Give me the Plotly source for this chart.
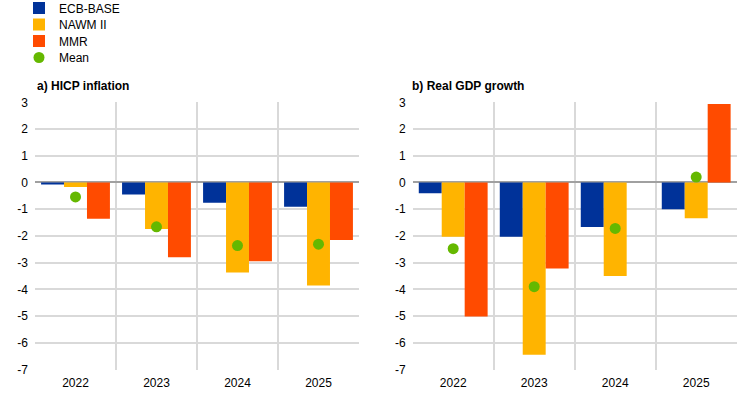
import plotly.graph_objects as go

years = ["2022", "2023", "2024", "2025"]
series_names = ["ECB-BASE", "NAWM II", "MMR"]
colors = ["#003299", "#FFB400", "#FF4B00"]
mean_color = "#65B800"

hicp_ecb = [-0.08, -0.45, -0.76, -0.91]
hicp_nawm = [-0.17, -1.74, -3.37, -3.86]
hicp_mmr = [-1.36, -2.80, -2.95, -2.15]
hicp_mean = [-0.54, -1.66, -2.36, -2.31]

gdp_ecb = [-0.40, -2.03, -1.67, -1.00]
gdp_nawm = [-2.03, -6.45, -3.50, -1.34]
gdp_mmr = [-5.02, -3.22, 0.0, 2.94]
gdp_mean = [-2.48, -3.90, -1.72, 0.20]

y_ticks = [3, 2, 1, 0, -1, -2, -3, -4, -5, -6, -7]

W, H = 744, 397
FONT = "Liberation Sans, Arial, sans-serif"

fig = go.Figure()

legend_ids = ["legend", "legend2", "legend3", "legend4"]
panels = [
    ("x", "y", [hicp_ecb, hicp_nawm, hicp_mmr], hicp_mean, True),
    ("x2", "y2", [gdp_ecb, gdp_nawm, gdp_mmr], gdp_mean, False),
]
for xa, ya, vals, mean, show in panels:
    for i, (name, v, c) in enumerate(zip(series_names, vals, colors)):
        fig.add_trace(go.Bar(
            x=years, y=v, name=name, marker=dict(color=c, line=dict(width=0)),
            xaxis=xa, yaxis=ya, showlegend=show, legend=legend_ids[i],
        ))
    fig.add_trace(go.Scatter(
        x=years, y=mean, name="Mean", mode="markers",
        marker=dict(color=mean_color, size=11, symbol="circle"),
        xaxis=xa, yaxis=ya, showlegend=show, legend=legend_ids[3],
    ))

grid = "#d9d9d9"
xcommon = dict(type="category", tickson="boundaries", showgrid=True, gridcolor=grid,
               gridwidth=1.5, ticks="", showline=False, zeroline=False,
               tickfont=dict(family=FONT, size=12, color="#000"), automargin=False,
               range=[-0.5, 3.5], ticklabelstandoff=4)
ycommon = dict(range=[-7, 3], tickvals=y_ticks, ticktext=[str(t) for t in y_ticks],
               showgrid=True, gridcolor=grid, gridwidth=1.5, zeroline=True,
               zerolinecolor="#a0a0a0", zerolinewidth=1.5, showline=False, ticks="",
               tickfont=dict(family=FONT, size=12, color="#000"), automargin=False,
               ticklabelstandoff=6)

legend_ys = [8, 24.5, 41, 57.5]
legend_layout = {}
for lid, ly in zip(legend_ids, legend_ys):
    legend_layout[lid] = dict(x=19 / W, y=(H - ly) / H, xanchor="left", yanchor="middle",
                              orientation="v", font=dict(family=FONT, size=12, color="#000"),
                              bgcolor="rgba(0,0,0,0)", itemwidth=30)

fig.update_layout(
    width=W, height=H,
    margin=dict(l=0, r=0, t=0, b=0, autoexpand=False),
    paper_bgcolor="white", plot_bgcolor="white",
    barmode="group", bargap=0.15, bargroupgap=0,
    font=dict(family=FONT, size=12, color="#000"),
    xaxis=dict(domain=[35 / W, 359 / W], anchor="y", **xcommon),
    yaxis=dict(domain=[(H - 369.5) / H, (H - 102.3) / H], anchor="x", **ycommon),
    xaxis2=dict(domain=[412.7 / W, 736.7 / W], anchor="y2", **xcommon),
    yaxis2=dict(domain=[(H - 369.5) / H, (H - 102.3) / H], anchor="x2", **ycommon),
    annotations=[
        dict(text="<b>a) HICP inflation</b>", x=35 / W, y=(H - 86) / H, xref="paper", yref="paper",
             xanchor="left", yanchor="middle", showarrow=False,
             font=dict(family=FONT, size=12, color="#000")),
        dict(text="<b>b) Real GDP growth</b>", x=410 / W, y=(H - 86) / H, xref="paper", yref="paper",
             xanchor="left", yanchor="middle", showarrow=False,
             font=dict(family=FONT, size=12, color="#000")),
    ],
    **legend_layout,
)

fig.write_html("out.html", config={"displayModeBar": False},
               post_script="document.body.style.margin='0';document.body.style.padding='0';")
